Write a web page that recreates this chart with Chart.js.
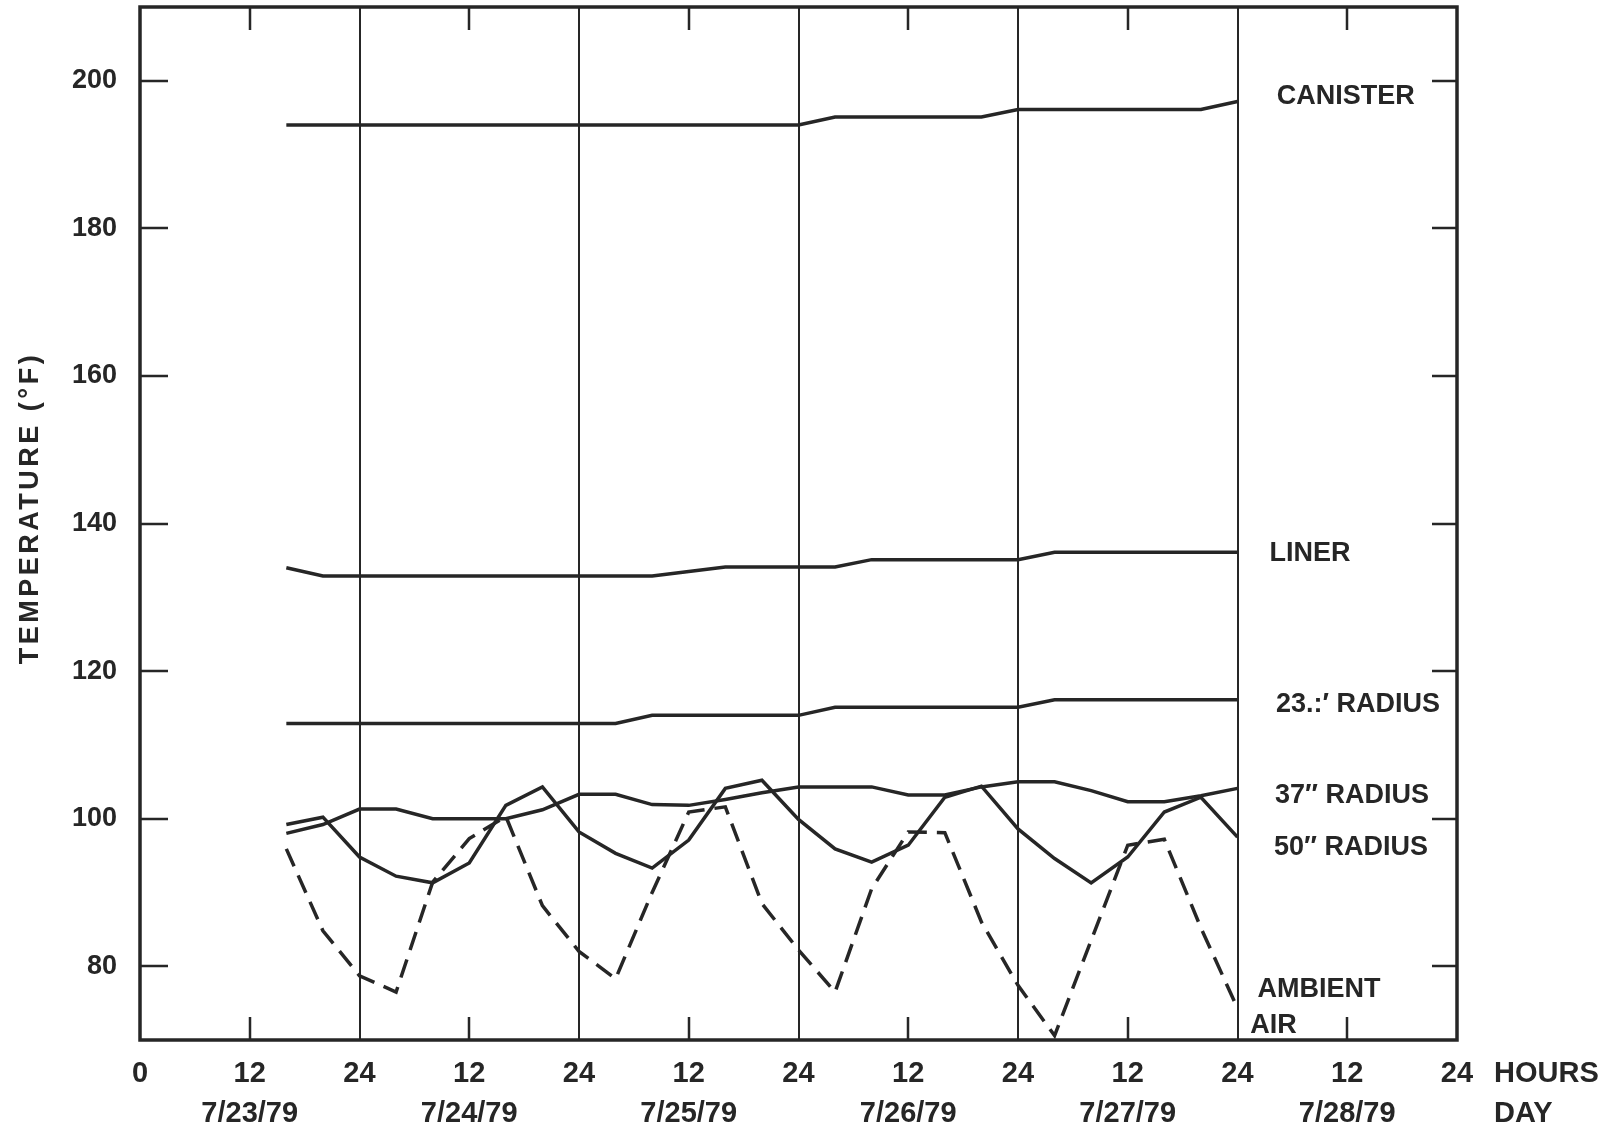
<!DOCTYPE html>
<html>
<head>
<meta charset="utf-8">
<script src="https://cdn.jsdelivr.net/npm/chart.js@4.4.1/dist/chart.umd.min.js"></script>
<style>
  html, body { margin: 0; padding: 0; background: #ffffff; }
  #wrap { width: 1607px; height: 1133px; }
</style>
</head>
<body>
<div id="wrap"><canvas id="chart" width="1607" height="1133"></canvas></div>
<script>
// Sampling times (hours from 0:00 on 7/23/79), one reading every 4 hours
const hours = [16, 20, 24, 28, 32, 36, 40, 44, 48, 52, 56, 60, 64, 68, 72, 76, 80, 84, 88, 92, 96, 100, 104, 108, 112, 116, 120];

// Temperatures in degrees F
const canister = [194, 194, 194, 194, 194, 194, 194, 194, 194, 194, 194, 194, 194, 194, 194,
                  195.1, 195.1, 195.1, 195.1, 195.1, 196.1, 196.1, 196.1, 196.1, 196.1, 196.1, 197.2];
const liner = [134.0, 132.9, 132.9, 132.9, 132.9, 132.9, 132.9, 132.9, 132.9, 132.9, 132.9, 133.5, 134.1, 134.1,
               134.1, 134.1, 135.1, 135.1, 135.1, 135.1, 135.1, 136.1, 136.1, 136.1, 136.1, 136.1, 136.1];
const radius23 = [112.9, 112.9, 112.9, 112.9, 112.9, 112.9, 112.9, 112.9, 112.9, 112.9, 114.0, 114.0, 114.0, 114.0,
                  114.0, 115.1, 115.1, 115.1, 115.1, 115.1, 115.1, 116.1, 116.1, 116.1, 116.1, 116.1, 116.1];
const radius37 = [98.0, 99.2, 101.3, 101.3, 100.0, 100.0, 100.0, 101.2, 103.3, 103.3, 101.9, 101.8, 102.6, 103.5,
                  104.3, 104.3, 104.3, 103.2, 103.2, 104.3, 105.0, 105.0, 103.8, 102.3, 102.3, 103.1, 104.1];
const radius50 = [99.2, 100.2, 94.8, 92.2, 91.3, 94.0, 101.8, 104.3, 98.2, 95.3, 93.3, 97.1, 104.1, 105.2,
                  99.9, 95.9, 94.1, 96.4, 102.9, 104.4, 98.6, 94.6, 91.3, 94.8, 100.9, 102.9, 97.5];
const ambient = [95.9, 84.8, 78.7, 76.5, 91.4, 97.3, 100.3, 88.2, 82.0, 78.3, 90.0, 100.9, 101.6, 88.5,
                 82.2, 76.5, 90.5, 98.2, 98.1, 86.0, 77.4, 70.6, 83.5, 96.4, 97.2, 85.2, 74.3];

// Axis ticks and labels
const xTickHours = [0, 12, 24, 36, 48, 60, 72, 84, 96, 108, 120, 132, 144];
const hourLabels = ['0', '12', '24', '12', '24', '12', '24', '12', '24', '12', '24', '12', '24'];
const dayLabels = ['7/23/79', '7/24/79', '7/25/79', '7/26/79', '7/27/79', '7/28/79'];
const dayLineHours = [24, 48, 72, 96, 120];
const yTickValues = [80, 100, 120, 140, 160, 180, 200];
const yTitle = 'TEMPERATURE (°F)';
const xUnitLabel = 'HOURS';
const xDayLabel = 'DAY';

// Curve names written at the right end of each line
const curveNames = ['CANISTER', 'LINER', '23.:′ RADIUS', '37″ RADIUS', '50″ RADIUS', 'AMBIENT', 'AIR'];
const curveNameAnchors = [
  { hour: 124.3, temp: 197.8 },
  { hour: 123.5, temp: 135.9 },
  { hour: 124.2, temp: 115.4 },
  { hour: 124.1, temp: 103.1 },
  { hour: 124.0, temp: 96.1 },
  { hour: 122.2, temp: 76.8 },
  { hour: 121.4, temp: 72.0 }
];

const INK = '#262626';
const FAMILY = '"Liberation Sans", Arial, Helvetica, sans-serif';

function series(values) {
  return hours.map((h, i) => ({ x: h, y: values[i] }));
}

function lineSet(label, values, dashed) {
  return {
    label: label,
    data: series(values),
    borderColor: INK,
    borderWidth: 3.5,
    borderDash: dashed ? [19, 10] : [],
    pointRadius: 0,
    tension: 0,
    fill: false
  };
}

// Frame, day dividers, inner tick marks and free text
const decorations = {
  id: 'decorations',
  afterDatasetsDraw(chart) {
    const { ctx, chartArea: a, scales } = chart;
    const xs = scales.x, ys = scales.y;
    ctx.save();
    ctx.strokeStyle = INK;
    ctx.lineCap = 'butt';

    // day boundary lines
    ctx.lineWidth = 2;
    dayLineHours.forEach(h => {
      const px = Math.round(xs.getPixelForValue(h));
      ctx.beginPath();
      ctx.moveTo(px, a.top);
      ctx.lineTo(px, a.bottom);
      ctx.stroke();
    });

    // mid-day ticks on top and bottom edges
    ctx.lineWidth = 2.5;
    xTickHours.forEach(h => {
      if (h % 24 !== 12) return;
      const px = Math.round(xs.getPixelForValue(h));
      ctx.beginPath();
      ctx.moveTo(px, a.top);
      ctx.lineTo(px, a.top + 23);
      ctx.moveTo(px, a.bottom);
      ctx.lineTo(px, a.bottom - 23);
      ctx.stroke();
    });

    // temperature ticks on left and right edges
    yTickValues.forEach(v => {
      const py = Math.round(ys.getPixelForValue(v));
      ctx.beginPath();
      ctx.moveTo(a.left, py);
      ctx.lineTo(a.left + 28, py);
      ctx.moveTo(a.right, py);
      ctx.lineTo(a.right - 25, py);
      ctx.stroke();
    });

    // outer frame
    ctx.lineWidth = 3.5;
    ctx.strokeRect(a.left, a.top, a.right - a.left, a.bottom - a.top);

    // curve names
    ctx.fillStyle = INK;
    ctx.font = 'bold 27px ' + FAMILY;
    ctx.textAlign = 'left';
    ctx.textBaseline = 'middle';
    curveNames.forEach((name, i) => {
      const p = curveNameAnchors[i];
      ctx.fillText(name, xs.getPixelForValue(p.hour), ys.getPixelForValue(p.temp));
    });

    // axis unit words beside the last hour label
    const xl = xs.options.ticks;
    const lh = 40;
    const y0 = xs.top + xl.padding + lh / 2;
    ctx.font = 'bold 29px ' + FAMILY;
    ctx.fillText(xUnitLabel, a.right + 37, y0);
    ctx.fillText(xDayLabel, a.right + 37, y0 + lh);

    // vertical axis title
    ctx.font = 'bold 27px ' + FAMILY;
    if ('letterSpacing' in ctx) ctx.letterSpacing = '3.5px';
    ctx.translate(31, 508);
    ctx.rotate(-Math.PI / 2);
    ctx.textAlign = 'center';
    ctx.fillText(yTitle, 0, 0);
    ctx.restore();
  }
};

new Chart(document.getElementById('chart'), {
  type: 'line',
  data: {
    datasets: [
      lineSet('CANISTER', canister, false),
      lineSet('LINER', liner, false),
      lineSet('23" RADIUS', radius23, false),
      lineSet('37" RADIUS', radius37, false),
      lineSet('50" RADIUS', radius50, false),
      lineSet('AMBIENT AIR', ambient, true)
    ]
  },
  options: {
    responsive: false,
    devicePixelRatio: 1,
    animation: false,
    layout: { padding: { top: 7, right: 150, left: 0, bottom: 0 } },
    plugins: { legend: { display: false }, tooltip: { enabled: false }, title: { display: false } },
    scales: {
      x: {
        type: 'linear',
        min: 0,
        max: 144,
        afterBuildTicks(scale) { scale.ticks = xTickHours.map(v => ({ value: v })); },
        afterFit(scale) {
          scale.height = 93;
          scale.paddingLeft = 0;
          scale.paddingRight = 0;
        },
        grid: { display: false, drawTicks: false },
        border: { display: false },
        ticks: {
          autoSkip: false,
          maxRotation: 0,
          padding: 14,
          color: INK,
          font: { family: FAMILY, size: 29, weight: 'bold', lineHeight: '40px' },
          callback(value) {
            const i = xTickHours.indexOf(value);
            if (i < 0) return '';
            if (value % 24 === 12) return [hourLabels[i], dayLabels[(value - 12) / 24]];
            return hourLabels[i];
          }
        }
      },
      y: {
        type: 'linear',
        min: 70,
        max: 210,
        afterBuildTicks(scale) { scale.ticks = yTickValues.map(v => ({ value: v })); },
        afterFit(scale) {
          scale.width = 140;
          scale.paddingTop = 0;
          scale.paddingBottom = 0;
        },
        grid: { display: false, drawTicks: false },
        border: { display: false },
        ticks: {
          padding: 23,
          color: INK,
          font: { family: FAMILY, size: 27, weight: 'bold' }
        }
      }
    }
  },
  plugins: [decorations]
});
</script>
</body>
</html>
